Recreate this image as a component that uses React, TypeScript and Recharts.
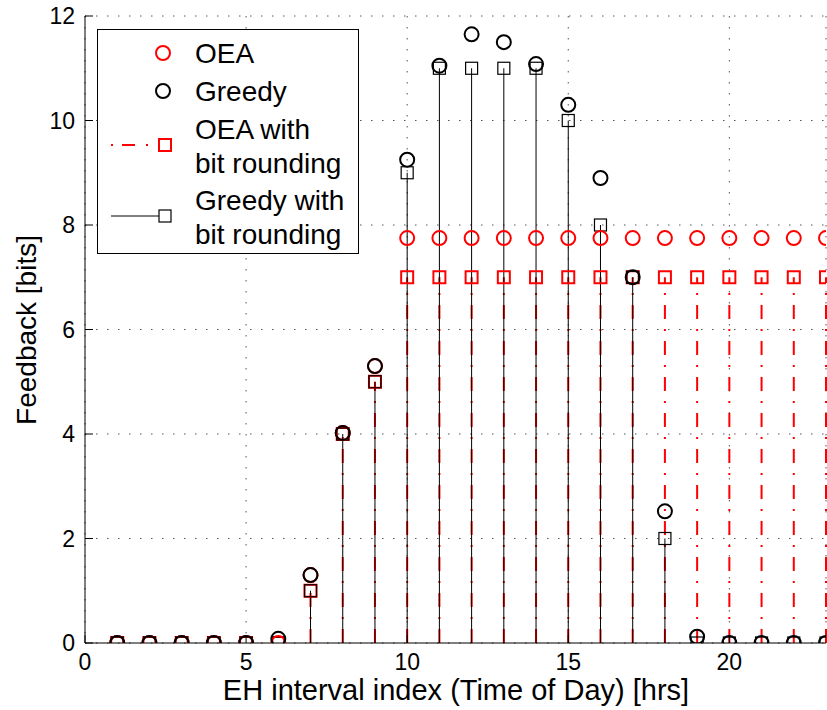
import React from "react";
import {
  ComposedChart,
  Scatter,
  XAxis,
  YAxis,
  CartesianGrid,
  ReferenceLine,
} from "recharts";

// EH interval index (hour of the day)
const hours = [1, 2, 3, 4, 5, 6, 7, 8, 9, 10, 11, 12, 13, 14, 15, 16, 17, 18, 19, 20, 21, 22, 23];
const oea = [0, 0, 0, 0, 0, 0, 1.3, 4.02, 5.3, 7.75, 7.75, 7.75, 7.75, 7.75, 7.75, 7.75, 7.75, 7.75, 7.75, 7.75, 7.75, 7.75, 7.75];
const oeaRounded = [0, 0, 0, 0, 0, 0, 1, 4, 5, 7, 7, 7, 7, 7, 7, 7, 7, 7, 7, 7, 7, 7, 7];
const greedy = [0, 0, 0, 0, 0, 0.08, 1.3, 4.02, 5.3, 9.25, 11.05, 11.65, 11.5, 11.08, 10.3, 8.9, 7.0, 2.52, 0.12, 0, 0, 0, 0];
const greedyRounded = [0, 0, 0, 0, 0, 0, 1, 4, 5, 9, 11, 11, 11, 11, 10, 8, 7, 2, 0, 0, 0, 0, 0];

const xTicks = [0, 5, 10, 15, 20];
const yTicks = [0, 2, 4, 6, 8, 10, 12];

const toPts = (vals: number[]) => hours.map((h, i) => ({ x: h, y: vals[i] }));

const FONT = "'Liberation Sans', Arial, Helvetica, sans-serif";
const RED = "#ff0000";
const DASHDOT = "14 10 2 10";

const RedCircle = (p: any) => (
  <circle cx={p.cx} cy={p.cy} r={7} fill="none" stroke={RED} strokeWidth={2} />
);
const BlackCircle = (p: any) => (
  <circle cx={p.cx} cy={p.cy} r={7} fill="none" stroke="#000" strokeWidth={2} />
);
const RedSquare = (p: any) => (
  <rect x={p.cx - 6} y={p.cy - 6} width={12} height={12} fill="none" stroke={RED} strokeWidth={2} />
);
const BlackSquare = (p: any) => (
  <rect x={p.cx - 6} y={p.cy - 6} width={12} height={12} fill="none" stroke="#000" strokeWidth={1.2} />
);

// MATLAB style ticks: pointing into the plot box
const BottomTick = (p: any) => (
  <g>
    <line x1={p.x} y1={p.y} x2={p.x} y2={p.y - 8} stroke="#000" />
    <text x={p.x} y={p.y + 27} textAnchor="middle" fontSize={23} fontFamily={FONT} fill="#000">
      {p.payload.value}
    </text>
  </g>
);
const TopTick = (p: any) => <line x1={p.x} y1={p.y} x2={p.x} y2={p.y + 8} stroke="#000" />;
const LeftTick = (p: any) => (
  <g>
    <line x1={p.x} y1={p.y} x2={p.x + 8} y2={p.y} stroke="#000" />
    <text x={p.x - 10} y={p.y + 8} textAnchor="end" fontSize={23} fontFamily={FONT} fill="#000">
      {p.payload.value}
    </text>
  </g>
);
const RightTick = (p: any) => <line x1={p.x} y1={p.y} x2={p.x - 8} y2={p.y} stroke="#000" />;

const Legend = () => {
  const txt = { fontSize: 28, fontFamily: FONT, fill: "#000" };
  return (
    <svg
      width={262}
      height={225}
      style={{ position: "absolute", left: 97, top: 29 }}
    >
      <rect x={0.5} y={0.5} width={261} height={224} fill="#fff" stroke="#000" />
      <circle cx={66} cy={24} r={7} fill="none" stroke={RED} strokeWidth={2} />
      <text x={98} y={34} {...txt}>OEA</text>
      <circle cx={66} cy={62} r={7} fill="none" stroke="#000" strokeWidth={2} />
      <text x={98} y={72} {...txt}>Greedy</text>
      <line x1={14} y1={116} x2={62} y2={116} stroke={RED} strokeWidth={2} strokeDasharray="2 9 13 11 2 50" />
      <rect x={62} y={110} width={12} height={12} fill="none" stroke={RED} strokeWidth={2} />
      <text x={98} y={110} {...txt}>OEA with</text>
      <text x={98} y={144} {...txt}>bit rounding</text>
      <line x1={14} y1={187} x2={62} y2={187} stroke="#000" strokeWidth={1} />
      <rect x={62} y={181} width={12} height={12} fill="none" stroke="#000" strokeWidth={1.2} />
      <text x={98} y={181} {...txt}>Greedy with</text>
      <text x={98} y={215} {...txt}>bit rounding</text>
    </svg>
  );
};

export default function App() {
  return (
    <div style={{ position: "absolute", left: 0, top: 0, width: 827, height: 710, background: "#fff" }}>
      <ComposedChart
        width={827}
        height={710}
        margin={{ top: 16, right: 1, bottom: 0, left: 0 }}
      >
        <CartesianGrid stroke="#555" strokeDasharray="1.5 9.5" />
        <XAxis
          dataKey="x"
          type="number"
          domain={[0, 23]}
          ticks={xTicks}
          allowDataOverflow
          height={67}
          tickSize={0}
          tickMargin={0}
          tick={BottomTick}
          axisLine={{ stroke: "#000" }}
          label={{
            content: () => (
              <text x={456} y={700} textAnchor="middle" fontSize={29} fontFamily={FONT} fill="#000">
                EH interval index (Time of Day) [hrs]
              </text>
            ),
          }}
        />
        <XAxis
          xAxisId="top"
          orientation="top"
          type="number"
          domain={[0, 23]}
          ticks={xTicks}
          allowDataOverflow
          height={0}
          tickSize={0}
          tickMargin={0}
          tick={TopTick}
          axisLine={{ stroke: "#000" }}
        />
        <YAxis
          dataKey="y"
          type="number"
          domain={[0, 12]}
          ticks={yTicks}
          allowDataOverflow
          width={85}
          tickSize={0}
          tickMargin={0}
          tick={LeftTick}
          axisLine={{ stroke: "#000" }}
          label={{
            content: () => (
              <text
                x={36}
                y={330}
                textAnchor="middle"
                transform="rotate(-90 36 330)"
                fontSize={28}
                fontFamily={FONT}
                fill="#000"
              >
                Feedback [bits]
              </text>
            ),
          }}
        />
        <YAxis
          yAxisId="right"
          orientation="right"
          type="number"
          domain={[0, 12]}
          ticks={yTicks}
          allowDataOverflow
          width={0}
          tickSize={0}
          tickMargin={0}
          tick={RightTick}
          axisLine={{ stroke: "#000" }}
        />

        {hours.map((h, i) =>
          oeaRounded[i] > 0 ? (
            <ReferenceLine
              key={`os${h}`}
              segment={[{ x: h, y: 0 }, { x: h, y: oeaRounded[i] }]}
              stroke={RED}
              strokeWidth={2}
              strokeDasharray={DASHDOT}
            />
          ) : null
        )}
        {hours.map((h, i) =>
          greedyRounded[i] > 0 ? (
            <ReferenceLine
              key={`gs${h}`}
              segment={[{ x: h, y: 0 }, { x: h, y: greedyRounded[i] }]}
              stroke="#000"
              strokeWidth={1}
            />
          ) : null
        )}

        <Scatter data={toPts(oeaRounded)} shape={RedSquare} isAnimationActive={false} />
        <Scatter data={toPts(greedyRounded)} shape={BlackSquare} isAnimationActive={false} />
        <Scatter data={toPts(oea)} shape={RedCircle} isAnimationActive={false} />
        <Scatter data={toPts(greedy)} shape={BlackCircle} isAnimationActive={false} />
      </ComposedChart>
      <Legend />
    </div>
  );
}
